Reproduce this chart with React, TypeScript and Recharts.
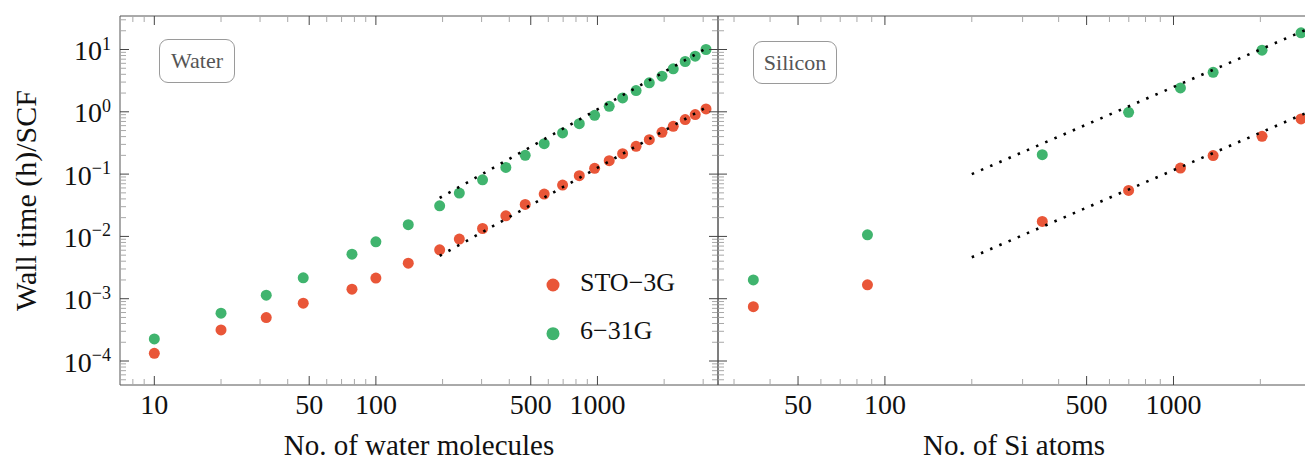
import React from 'react';
import { ScatterChart, Scatter, XAxis, YAxis, Legend, Label } from 'recharts';

const RED = '#E95638';
const GREEN = '#40B46E';
const FONT = '"Liberation Serif", "Times New Roman", serif';
const FRAME = '#555';

// water panel: number of molecules and wall time per SCF cycle (h)
const waterN = [10, 20, 32, 47, 78, 100, 140, 194, 238, 303, 386, 472, 575, 696, 828, 971, 1130, 1299, 1494, 1714, 1955, 2198, 2489, 2762, 3090];
const waterSto3g = [1.33e-4, 3.15e-4, 4.97e-4, 8.47e-4, 1.42e-3, 2.14e-3, 3.72e-3, 6.1e-3, 9.06e-3, 0.0134, 0.0214, 0.0326, 0.0479, 0.0668, 0.0942, 0.124, 0.164, 0.213, 0.279, 0.357, 0.468, 0.585, 0.75, 0.902, 1.11];
const water631g = [2.26e-4, 5.85e-4, 1.14e-3, 2.16e-3, 5.19e-3, 8.2e-3, 0.0154, 0.031, 0.0497, 0.081, 0.128, 0.2, 0.308, 0.458, 0.646, 0.879, 1.225, 1.67, 2.19, 2.92, 3.73, 4.9, 6.42, 7.8, 10.0];

// fitted lines (end points)
const waterFitN = [194, 3220];
const waterFitSto = [0.00487, 1.28];
const waterFit631 = [0.0414, 11.3];

// silicon panel
const siliconN = [35, 87, 351, 699, 1057, 1372, 2027, 2767];
const siliconSto3g = [7.46e-4, 1.67e-3, 0.0174, 0.0547, 0.125, 0.198, 0.404, 0.77];
const silicon631g = [2.0e-3, 0.0106, 0.205, 0.98, 2.42, 4.31, 9.75, 18.5];

const siliconFitN = [200, 2972];
const siliconFitSto = [0.00464, 1.02];
const siliconFit631 = [0.1, 22.1];

// axes
const yDomain: [number, number] = [4.12e-5, 34.5];
const waterXDomain: [number, number] = [7, 3500];
const siliconXDomain: [number, number] = [26.4, 2972];
const yLabels = [1e-4, 1e-3, 1e-2, 1e-1, 1, 10];
const waterXLabels = [10, 50, 100, 500, 1000];
const siliconXLabels = [50, 100, 500, 1000];

const pts = (xs: number[], ys: number[]) => xs.map((x, i) => ({ x, y: ys[i] }));

// 1..9 x 10^k marks strictly inside the range
function logTicks(lo: number, hi: number) {
  const out: number[] = [];
  for (let e = Math.floor(Math.log10(lo)); e <= Math.ceil(Math.log10(hi)); e++) {
    for (let m = 1; m <= 9; m++) {
      const v = Number((m * Math.pow(10, e)).toPrecision(6));
      if (v > lo * 1.001 && v < hi * 0.999) out.push(v);
    }
  }
  return out;
}

const has = (arr: number[], v: number) => arr.some((a) => Math.abs(a - v) <= a * 1e-6);

const supText = (v: number) => {
  const e = Math.round(Math.log10(v));
  return e < 0 ? '\u2212' + -e : String(e);
};

type Side = 'bottom' | 'top' | 'left' | 'right';

function makeTick(side: Side, labelled: number[], showLabels: boolean) {
  return (p: any) => {
    const { x, y, payload } = p;
    const v = payload.value;
    const major = has(labelled, v);
    const len = major ? 9 : 6;
    const stroke = major ? '#444' : '#a8a8a8';
    let x2 = x;
    let y2 = y;
    if (side === 'bottom') y2 = y - len;
    if (side === 'top') y2 = y + len;
    if (side === 'left') x2 = x + len;
    if (side === 'right') x2 = x - len;
    return (
      <g>
        <line x1={x} y1={y} x2={x2} y2={y2} stroke={stroke} strokeWidth={1} />
        {showLabels && major && side === 'bottom' && (
          <text x={x} y={y + 29} textAnchor="middle" fontSize={28} fontFamily={FONT} fill="#111">
            {v}
          </text>
        )}
        {showLabels && major && side === 'left' && (
          <text x={x - 9} y={y + 10.5} textAnchor="end" fontFamily={FONT} fill="#111">
            <tspan fontSize={28}>10</tspan>
            <tspan fontSize={18} dy={-10.5}>{supText(v)}</tspan>
          </text>
        )}
      </g>
    );
  };
}

const dot = (color: string) => (p: any) => <circle cx={p.cx} cy={p.cy} r={5.5} fill={color} />;
const noShape = () => <g />;
const fitLine = { stroke: '#000', strokeWidth: 2.6, strokeDasharray: '2.5 7.5' };

const Box = ({ left, top, width, height, text }: any) => (
  <div
    style={{
      position: 'absolute', left, top, width, height, boxSizing: 'border-box',
      border: '1px solid #9a9a9a', borderRadius: 9, display: 'flex',
      alignItems: 'center', justifyContent: 'center',
      fontFamily: FONT, fontSize: 22, color: '#555',
    }}
  >
    {text}
  </div>
);

const WaterLegend = () => (
  <svg width={220} height={100} style={{ display: 'block' }}>
    <circle cx={13} cy={25} r={6.5} fill={RED} />
    <text x={40} y={30.7} fontFamily={FONT} fontSize={26} fill="#111">STO{'\u2212'}3G</text>
    <circle cx={13} cy={73.7} r={6.5} fill={GREEN} />
    <text x={40} y={79.3} fontFamily={FONT} fontSize={26} fill="#111">6{'\u2212'}31G</text>
  </svg>
);

const xTitle = (text: string) => (p: any) => {
  const vb = p.viewBox;
  return (
    <text x={vb.x + vb.width / 2} y={vb.y + 70} textAnchor="middle" fontFamily={FONT} fontSize={29} fill="#111">
      {text}
    </text>
  );
};

const yTitle = (p: any) => {
  const vb = p.viewBox;
  const cy = vb.y + vb.height / 2;
  return (
    <text transform={`translate(36,${cy}) rotate(-90)`} textAnchor="middle" fontFamily={FONT} fontSize={30} fill="#111">
      Wall time (h)/SCF
    </text>
  );
};

export default function App() {
  const yTicks = logTicks(yDomain[0], yDomain[1]);
  const waterTicks = logTicks(waterXDomain[0], waterXDomain[1]);
  const siliconTicks = logTicks(siliconXDomain[0], siliconXDomain[1]);
  const axisLine = { stroke: FRAME, strokeWidth: 1 };

  return (
    <div style={{ position: 'absolute', left: 0, top: 0, width: 1305, height: 463, overflow: 'hidden', background: '#fff' }}>
      {/* Water */}
      <div style={{ position: 'absolute', left: 0, top: 0 }}>
        <ScatterChart width={720} height={463} margin={{ top: 0, right: 0, bottom: 0, left: 0 }}>
          <XAxis xAxisId="b" dataKey="x" type="number" scale="log" domain={waterXDomain} allowDataOverflow
            ticks={waterTicks} interval={0} orientation="bottom" height={78} tickSize={0} tickMargin={0}
            axisLine={axisLine} tickLine={false} tick={makeTick('bottom', waterXLabels, true)}>
            <Label content={xTitle('No. of water molecules')} />
          </XAxis>
          <XAxis xAxisId="t" dataKey="x" type="number" scale="log" domain={waterXDomain} allowDataOverflow
            ticks={waterTicks} interval={0} orientation="top" height={16} tickSize={0} tickMargin={0}
            axisLine={axisLine} tickLine={false} tick={makeTick('top', waterXLabels, false)} />
          <YAxis yAxisId="l" dataKey="y" type="number" scale="log" domain={yDomain} allowDataOverflow
            ticks={yTicks} interval={0} orientation="left" width={120} tickSize={0} tickMargin={0}
            axisLine={axisLine} tickLine={false} tick={makeTick('left', yLabels, true)}>
            <Label content={yTitle} />
          </YAxis>
          <YAxis yAxisId="r" dataKey="y" type="number" scale="log" domain={yDomain} allowDataOverflow
            ticks={yTicks} interval={0} orientation="right" width={2} tickSize={0} tickMargin={0}
            axisLine={axisLine} tickLine={false} tick={makeTick('right', yLabels, false)} />
          <Scatter xAxisId="b" yAxisId="l" name="STO-3G" data={pts(waterN, waterSto3g)} shape={dot(RED)} isAnimationActive={false} />
          <Scatter xAxisId="b" yAxisId="l" name="6-31G" data={pts(waterN, water631g)} shape={dot(GREEN)} isAnimationActive={false} />
          <Scatter xAxisId="b" yAxisId="l" data={pts(waterFitN, waterFitSto)} line={fitLine} shape={noShape} stroke="#000" isAnimationActive={false} />
          <Scatter xAxisId="b" yAxisId="l" data={pts(waterFitN, waterFit631)} line={fitLine} shape={noShape} stroke="#000" isAnimationActive={false} />
          <Legend layout="vertical" align="center" verticalAlign="middle" content={() => <WaterLegend />}
            wrapperStyle={{ position: 'absolute', left: 540, top: 260, width: 220, height: 100 }} />
        </ScatterChart>
        <Box left={159} top={39} width={76} height={44} text="Water" />
      </div>

      {/* Silicon */}
      <div style={{ position: 'absolute', left: 716, top: 0 }}>
        <ScatterChart width={594} height={463} margin={{ top: 0, right: 0, bottom: 0, left: 0 }}>
          <XAxis xAxisId="b" dataKey="x" type="number" scale="log" domain={siliconXDomain} allowDataOverflow
            ticks={siliconTicks} interval={0} orientation="bottom" height={78} tickSize={0} tickMargin={0}
            axisLine={axisLine} tickLine={false} tick={makeTick('bottom', siliconXLabels, true)}>
            <Label content={xTitle('No. of Si atoms')} />
          </XAxis>
          <XAxis xAxisId="t" dataKey="x" type="number" scale="log" domain={siliconXDomain} allowDataOverflow
            ticks={siliconTicks} interval={0} orientation="top" height={16} tickSize={0} tickMargin={0}
            axisLine={axisLine} tickLine={false} tick={makeTick('top', siliconXLabels, false)} />
          <YAxis yAxisId="l" dataKey="y" type="number" scale="log" domain={yDomain} allowDataOverflow
            ticks={yTicks} interval={0} orientation="left" width={2} tickSize={0} tickMargin={0}
            axisLine={axisLine} tickLine={false} tick={makeTick('left', yLabels, false)} />
          <Scatter xAxisId="b" yAxisId="l" name="STO-3G" data={pts(siliconN, siliconSto3g)} shape={dot(RED)} isAnimationActive={false} />
          <Scatter xAxisId="b" yAxisId="l" name="6-31G" data={pts(siliconN, silicon631g)} shape={dot(GREEN)} isAnimationActive={false} />
          <Scatter xAxisId="b" yAxisId="l" data={pts(siliconFitN, siliconFitSto)} line={fitLine} shape={noShape} stroke="#000" isAnimationActive={false} />
          <Scatter xAxisId="b" yAxisId="l" data={pts(siliconFitN, siliconFit631)} line={fitLine} shape={noShape} stroke="#000" isAnimationActive={false} />
        </ScatterChart>
        <Box left={37} top={41} width={84} height={43} text="Silicon" />
      </div>
    </div>
  );
}
